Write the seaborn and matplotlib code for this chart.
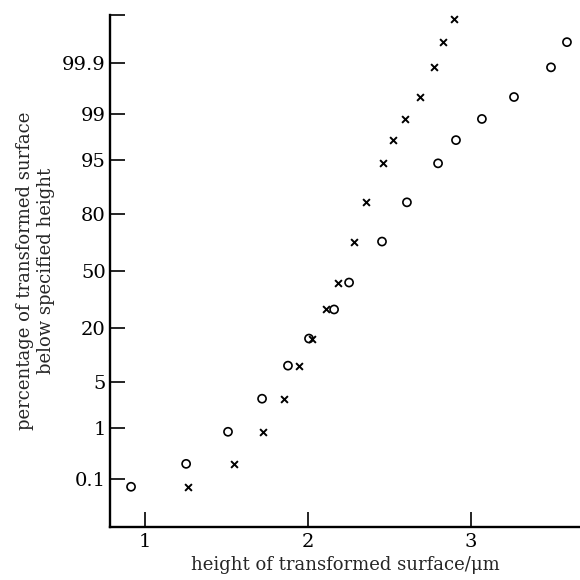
import numpy as np
import matplotlib
matplotlib.use("Agg")
import matplotlib.pyplot as plt
import seaborn as sns
from statistics import NormalDist

# cumulative percentage levels (shared plotting positions)
pct_levels = [0.068, 0.21, 0.85, 2.9, 8.0, 15.8, 28.4, 43.2, 66.9, 84.6,
              94.5, 97.4, 98.8, 99.51, 99.875, 99.966, 99.991]

# heights (um) of the two transformed surfaces
height_circles = [0.914, 1.252, 1.509, 1.718, 1.877, 2.006, 2.160, 2.252,
                  2.454, 2.607, 2.798, 2.908, 3.067, 3.264, 3.491, 3.589]
height_crosses = [1.264, 1.546, 1.724, 1.853, 1.945, 2.025, 2.110, 2.184,
                  2.282, 2.356, 2.460, 2.521, 2.595, 2.687, 2.773, 2.828,
                  2.896]

pct_ticks = [0.1, 1, 5, 20, 50, 80, 95, 99, 99.9]
pct_tick_labels = ["0.1", "1", "5", "20", "50", "80", "95", "99", "99.9"]
x_ticks = [1, 2, 3]

sns.set_style("ticks")
plt.rcParams["font.family"] = ["DejaVu Serif"]
plt.rcParams["mathtext.fontset"] = "dejavuserif"

_nd = NormalDist()
_inv = np.vectorize(lambda v: _nd.inv_cdf(v / 100.0), otypes=[float])
_cdf = np.vectorize(lambda v: _nd.cdf(v) * 100.0, otypes=[float])


def pct_to_probit(p):
    p = np.clip(np.asarray(p, dtype=float), 1e-9, 100 - 1e-9)
    return _inv(p)


def probit_to_pct(z):
    return _cdf(np.asarray(z, dtype=float))


fig = plt.figure(figsize=(5.8, 5.8), dpi=100)
ax = fig.add_axes([0.1897, 0.0914, 0.8103, 0.8827])
ax.set_yscale("function", functions=(pct_to_probit, probit_to_pct))

sns.scatterplot(x=height_circles, y=pct_levels[:len(height_circles)], ax=ax,
                marker="o", s=34, facecolors="none", edgecolor="black",
                linewidth=1.2, zorder=3)
sns.scatterplot(x=height_crosses, y=pct_levels[:len(height_crosses)], ax=ax,
                marker="x", s=24, color="black", linewidth=1.4, zorder=3)

ax.set_xlim(0.785, 3.669)
y_lo = float(probit_to_pct(-3.8))
y_hi = float(probit_to_pct(3.8))
ax.set_ylim(y_lo, y_hi)

ax.set_yticks(pct_ticks)
ax.set_yticklabels(pct_tick_labels)
ax.set_yticks([y_hi], minor=True)
ax.yaxis.set_minor_formatter(matplotlib.ticker.NullFormatter())
ax.set_xticks(x_ticks)
ax.set_xticklabels([str(t) for t in x_ticks])
ax.xaxis.set_minor_locator(matplotlib.ticker.NullLocator())

ax.tick_params(axis="both", which="both", direction="in", length=11,
               width=1.2, color="black", labelsize=14, labelcolor="black")
ax.tick_params(axis="y", which="major", pad=3)
ax.tick_params(axis="x", which="major", pad=4)

for side in ("top", "right"):
    ax.spines[side].set_visible(False)
for side in ("left", "bottom"):
    ax.spines[side].set_linewidth(1.7)
    ax.spines[side].set_color("black")

ax.set_xlabel("height of transformed surface/\u03bcm", fontsize=13, labelpad=4)
ax.set_ylabel("percentage of transformed surface\nbelow specified height",
              fontsize=13, labelpad=5, linespacing=1.25)

fig.savefig("out.png", dpi=100, facecolor="white")
